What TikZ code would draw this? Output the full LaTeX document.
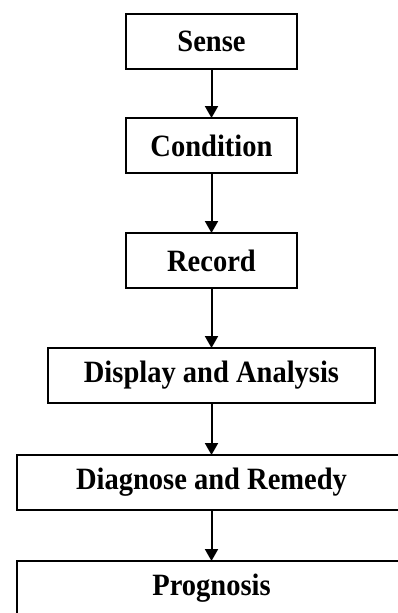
\documentclass[tikz,border=0pt]{standalone}
\usepackage{fontspec}
\setmainfont[FakeStretch=0.92]{Liberation Serif}
\usetikzlibrary{arrows.meta, positioning}
\tikzset{
  stepbox/.style={rectangle, draw=black, line width=2pt, fill=white,
                  minimum width=#1, minimum height=55pt, outer sep=0pt,
                  font=\fontsize{31}{32}\selectfont\bfseries, text=black, align=center},
  arr/.style={-{Triangle[length=12pt, width=13pt]}, line width=2pt, color=black},
}

\begin{document}
\begin{tikzpicture}[x=1pt, y=1pt]
      \useasboundingbox (0,0) rectangle (398,-613);
      \node[stepbox=171pt] (sense) at (211.5,-41.5) {Sense};
      \node[stepbox=171pt, below=49pt of sense] (cond) {Condition};
      \node[stepbox=171pt, below=60pt of cond] (rec) {Record};
      \node[stepbox=327pt, below=60pt of rec] (disp) {Display and Analysis};
      \node[stepbox=390pt, below=52pt of disp] (diag) {Diagnose and Remedy};
      \node[stepbox=390pt, below=51pt of diag] (prog) {Prognosis};

      \draw[arr] (sense) -- (cond);
      \draw[arr] (cond)  -- (rec);
      \draw[arr] (rec)   -- (disp);
      \draw[arr] (disp)  -- (diag);
      \draw[arr] (diag)  -- (prog);
    \end{tikzpicture}
\end{document}
